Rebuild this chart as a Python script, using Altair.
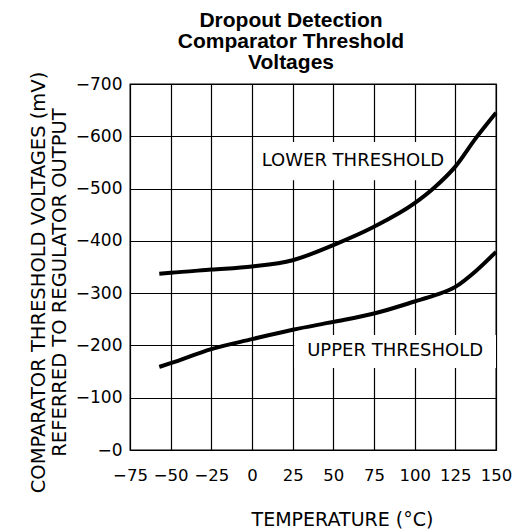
import altair as alt
import pandas as pd

# Lower threshold curve (temperature °C, threshold mV)
lower_t = [-57, -50, -25, 0, 25, 50, 75, 100, 112.5, 125, 137.5, 150]
lower_v = [-337, -339, -345, -351, -363, -392, -427, -472, -503, -542, -596, -645]

# Upper threshold curve
upper_t = [-57, -50, -25, 0, 25, 50, 75, 100, 112.5, 125, 137.5, 150]
upper_v = [-159, -166, -193, -212, -230, -245, -261, -284, -296, -312, -342, -379]

series_names = ["LOWER THRESHOLD", "UPPER THRESHOLD"]

# Annotation label boxes (data units) and label anchor points
label_x = [62, 88]
label_y = [-553, -189]
box_x1 = [1.5, 26]
box_x2 = [123, 150]
box_y1 = [-516, -157]
box_y2 = [-589, -220]

x_ticks = [-75, -50, -25, 0, 25, 50, 75, 100, 125, 150]
y_ticks = list(range(0, -701, -50))

FONT = "DejaVu Sans"

curves = pd.DataFrame(
    {"t": lower_t + upper_t,
     "v": lower_v + upper_v,
     "series": [series_names[0]] * len(lower_t) + [series_names[1]] * len(upper_t)}
)
labels = pd.DataFrame({"t": label_x, "v": label_y, "text": series_names,
                       "x1": box_x1, "x2": box_x2, "y1": box_y1, "y2": box_y2})

xscale = alt.Scale(domain=[-75, 150], nice=False, zero=False)
yscale = alt.Scale(domain=[0, -700], nice=False, zero=False)

x_axis = alt.Axis(values=x_ticks, title="TEMPERATURE (°C)", labelFont=FONT, labelFontSize=16.5,
                  labelColor="black", labelPadding=17, labelOverlap=False, labelFlush=False,
                  titleFont=FONT, titleFontSize=19,
                  titleFontWeight="normal", titleColor="black", titleX=212, titleY=69,
                  titleBaseline="middle", titleAlign="center")
y_axis = alt.Axis(values=y_ticks,
                  labelExpr="datum.value % 100 != 0 ? '' : (datum.value == 0 ? '\u22120' : '\u2212' + abs(datum.value))",
                  title=["COMPARATOR THRESHOLD VOLTAGES (mV)", "REFERRED TO REGULATOR OUTPUT"],
                  labelFont=FONT, labelFontSize=17, labelColor="black", labelPadding=8,
                  labelOverlap=False, labelFlush=False,
                  titleFont=FONT, titleFontSize=19.5, titleFontWeight="normal", titleColor="black",
                  titleX=-92, titleY=198, titleAngle=-90, titleAlign="center",
                  titleBaseline="middle", titleLineHeight=21)

boxes = alt.Chart(labels).mark_rect(fill="white", stroke=None).encode(
    x=alt.X("x1:Q", scale=xscale, axis=x_axis),
    x2="x2:Q",
    y=alt.Y("y1:Q", scale=yscale, axis=y_axis),
    y2="y2:Q",
)

lines = alt.Chart(curves).mark_line(color="black", strokeWidth=4, interpolate="monotone").encode(
    x=alt.X("t:Q", scale=xscale),
    y=alt.Y("v:Q", scale=yscale),
    detail="series:N",
)

texts = alt.Chart(labels).mark_text(font=FONT, fontSize=18, color="black").encode(
    x=alt.X("t:Q", scale=xscale),
    y=alt.Y("v:Q", scale=yscale),
    text="text:N",
)

chart = alt.layer(boxes, lines, texts).properties(
    width=366,
    height=366,
    padding={"left": 122, "top": 76, "right": 17, "bottom": 80},
    autosize=alt.AutoSizeParams(type="none"),
    title=alt.TitleParams(["Dropout Detection", "Comparator Threshold", "Voltages"],
                          font="Liberation Sans", fontSize=21, fontWeight="bold", color="black",
                          anchor="middle", offset=-1.5, lineHeight=21, dx=-22),
).configure_view(stroke="black", strokeWidth=1.3).configure_axis(
    grid=True, gridColor="black", gridOpacity=1, gridWidth=1.2, domain=False, ticks=False,
)

chart.save("out.html", embed_options={"renderer": "svg", "actions": False})
